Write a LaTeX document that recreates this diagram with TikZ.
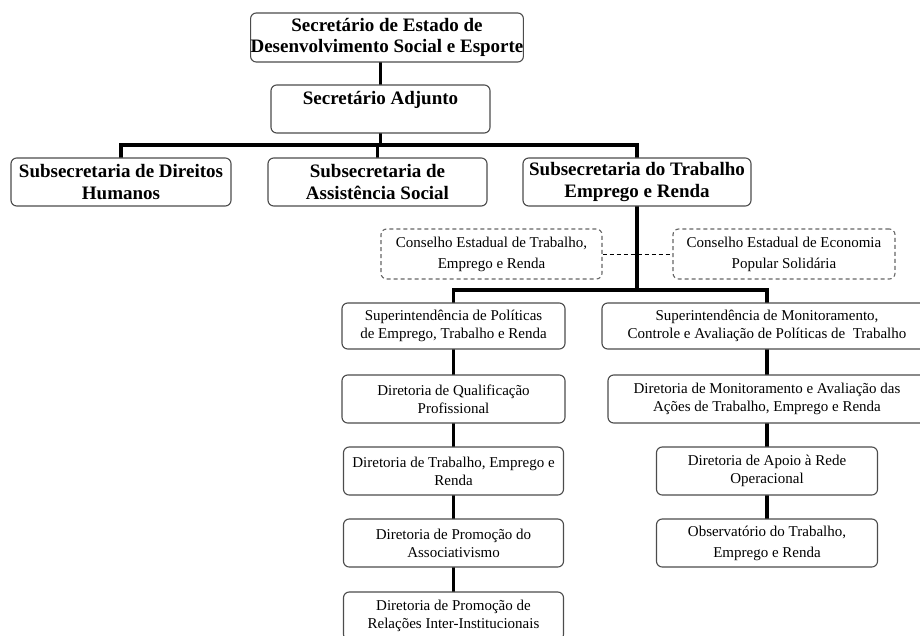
\documentclass[tikz,border=0pt]{standalone}
\usepackage{fontspec}
\setmainfont{Liberation Serif}
\usetikzlibrary{backgrounds}

\begin{document}
\begin{tikzpicture}[x=1pt,y=-1pt]
    % `chefia' is used for the bold boxes at the top levels.
    % `unidade' is used for the plain boxes of the lower levels.
    % `conselho' is used for the dashed council boxes.
    % `link' is used for the thick black connectors.
    \tikzstyle{caixa} = [draw=black!70,line width=1.1pt,rounded corners=2mm,fill=white,inner sep=0pt,align=center]
    \tikzstyle{chefia} = [caixa,font=\bfseries\fontsize{19}{21.5}\selectfont,minimum height=48pt]
    \tikzstyle{unidade} = [caixa,font=\fontsize{15}{18}\selectfont,minimum height=48pt]
    \tikzstyle{conselho} = [caixa,draw=black!60,dashed,dash pattern=on 4pt off 3pt,font=\fontsize{15}{21}\selectfont,minimum height=50pt]
    \tikzstyle{link} = [line width=3.5pt,line cap=rect]
    %
    \clip (0,0) rectangle (920,636);

    \node[chefia,minimum width=270pt,minimum height=49pt] (sec) at (387,37.5)
      {Secretário de Estado de\\Desenvolvimento Social e Esporte};
    \node[chefia,minimum width=219pt] (adj) at (380.5,109)
      {Secretário Adjunto\\\mbox{}};

    \node[chefia,minimum width=220pt] (sdh) at (121,182)
      {Subsecretaria de Direitos\\Humanos};
    \node[chefia,minimum width=219pt] (sas) at (377.5,182)
      {Subsecretaria de\\Assistência Social};
    \node[chefia,minimum width=228pt] (ster) at (637,182)
      {Subsecretaria do Trabalho\\Emprego e Renda};

    \node[conselho,minimum width=221pt] (cetr) at (491.5,254)
      {Conselho Estadual de Trabalho,\\Emprego e Renda};
    \node[conselho,minimum width=222pt] (ceps) at (784,254)
      {Conselho Estadual de Economia\\Popular Solidária};

    % left column
    \node[unidade,minimum width=223pt,minimum height=46pt] (supp) at (453.5,326)
      {Superintendência de Políticas\\de Emprego, Trabalho e Renda};
    \node[unidade,minimum width=223pt] (dqp) at (453.5,399)
      {Diretoria de Qualificação\\Profissional};
    \node[unidade,minimum width=220pt] (dter) at (453.5,471)
      {Diretoria de Trabalho, Emprego e\\Renda};
    \node[unidade,minimum width=220pt] (dpa) at (453.5,543)
      {Diretoria de Promoção do\\Associativismo};
    \node[unidade,minimum width=220pt] (dpri) at (453.5,616)
      {Diretoria de Promoção de\\Relações Inter-Institucionais};

    % right column
    \node[unidade,minimum width=330pt,minimum height=46pt] (supm) at (767,326)
      {Superintendência de Monitoramento,\\Controle e Avaliação de Políticas de\ \ Trabalho};
    \node[unidade,minimum width=318pt] (dma) at (767,399)
      {Diretoria de Monitoramento e Avaliação das\\Ações de Trabalho, Emprego e Renda};
    \node[unidade,minimum width=221pt] (dar) at (767,471)
      {Diretoria de Apoio à Rede\\Operacional};
    \node[unidade,minimum width=221pt,font=\fontsize{15}{21}\selectfont] (obs) at (767,543)
      {Observatório do Trabalho,\\Emprego e Renda};

    \coordinate (bus1) at (0,145);
    \coordinate (bus2) at (0,290);

    \begin{pgfonlayer}{background}
        % Draw lines.
        \draw[link] (sec.south -| adj) -- (adj.north);
        \draw[link] (adj.south) -- (adj.south |- bus1);
        \draw[link] (sdh.north) |- (ster.north |- bus1) -- (ster.north);
        \draw[link] (sas.north) -- (sas.north |- bus1);
        \draw[link] (ster.south) -- (ster.south |- bus2);
        \draw[link] (supp.north) |- (supm.north |- bus2) -- (supm.north);
        \draw[dashed,dash pattern=on 4pt off 3pt,line width=1pt] (cetr.east) -- (ceps.west);
        \draw[link] (supp) -- (dqp) -- (dter) -- (dpa) -- (dpri);
        \draw[link] (supm) -- (dma) -- (dar) -- (obs);
    \end{pgfonlayer}
\end{tikzpicture}
\end{document}
